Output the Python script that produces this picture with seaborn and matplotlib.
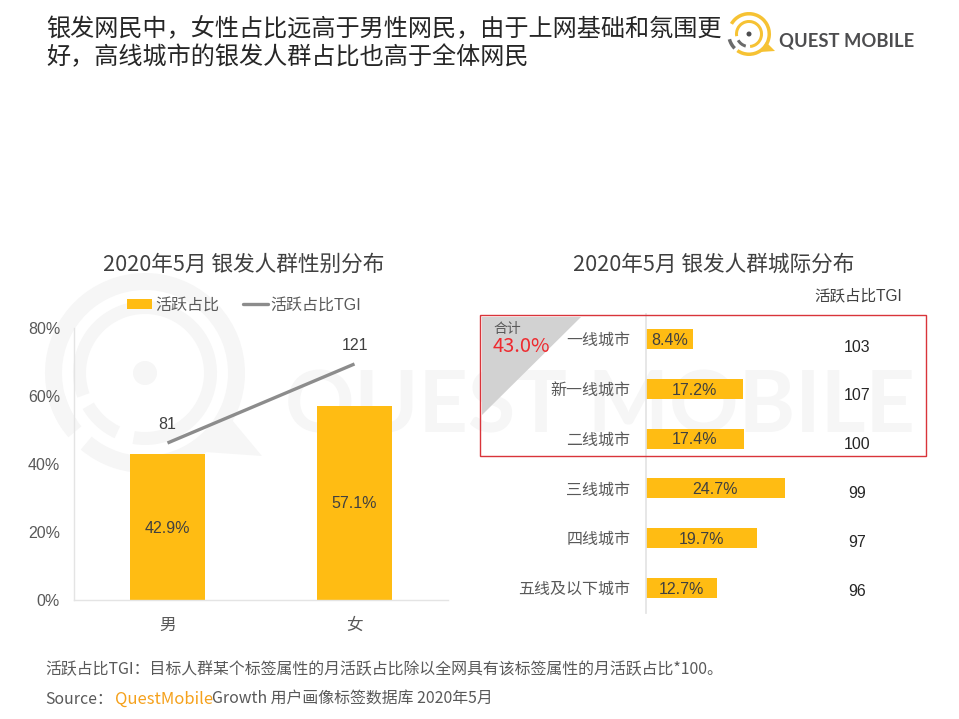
import matplotlib
matplotlib.use('Agg')
import matplotlib.pyplot as plt
from matplotlib.lines import Line2D
from matplotlib.patches import Patch, Polygon, Rectangle, Wedge, Circle
import pandas as pd
import seaborn as sns

genders = ['男', '女']
gender_share = [42.9, 57.1]
gender_tgi = [81, 121]
share_ticks = [0, 20, 40, 60, 80]

cities = ['一线城市', '新一线城市', '二线城市', '三线城市', '四线城市', '五线及以下城市']
city_share = [8.4, 17.2, 17.4, 24.7, 19.7, 12.7]
city_tgi = [103, 107, 100, 99, 97, 96]

title_text = '银发网民中，女性占比远高于男性网民，由于上网基础和氛围更\n好，高线城市的银发人群占比也高于全体网民'
note_text = '活跃占比TGI：目标人群某个标签属性的月活跃占比除以全网具有该标签属性的月活跃占比*100。'

YELLOW = '#ffbc13'
GREY = '#8c8c8c'
TEXT = '#404040'
WM = '#f6f6f6'
W, H = 959, 719

sns.set_theme(style='white')
cjk = ['Noto Sans CJK SC', 'DejaVu Sans']
mixed = ['Liberation Sans', 'Noto Sans CJK SC', 'DejaVu Sans']
plt.rcParams['font.family'] = mixed


def px_axes(fig, left, top, right, bottom, **kw):
    return fig.add_axes([left / W, (H - bottom) / H, (right - left) / W, (bottom - top) / H], **kw)


fig = plt.figure(figsize=(W / 100, H / 100), dpi=100, facecolor='white')

# overlay in pixel coords, for watermark, logo and loose text
bg = px_axes(fig, 0, 0, W, H, zorder=0)
bg.set_xlim(0, W)
bg.set_ylim(H, 0)
bg.axis('off')

# watermark
cx, cy = 145, 373
bg.add_patch(Wedge((cx, cy), 100, -215, 130, width=17, fc=WM, ec='none'))
bg.add_patch(Wedge((cx, cy), 100, 140, 165, width=17, fc=WM, ec='none'))
bg.add_patch(Wedge((cx, cy), 72, -200, 100, width=13, fc=WM, ec='none'))
bg.add_patch(Wedge((cx, cy), 72, 115, 150, width=13, fc=WM, ec='none'))
bg.add_patch(Circle((cx, cy), 12, fc=WM, ec='none'))
bg.add_patch(Polygon([(232, 420), (262, 456), (205, 452)], fc=WM, ec='none'))
bg.text(285, 408, 'QUEST MOBILE', fontsize=62, color=WM, family='Lato', fontweight='bold',
        va='center', ha='left')

# gender chart
ax1 = px_axes(fig, 74, 328, 448, 599.5, zorder=2)
ax1.patch.set_alpha(0)
df_gender = pd.DataFrame({'gender': genders, 'share': gender_share, 'tgi': gender_tgi})
sns.barplot(data=df_gender, x='gender', y='share', color=YELLOW, saturation=1, width=0.4,
            linewidth=0, ax=ax1)
ax1.set_ylim(0, 80)
ax1.set_yticks(share_ticks)
ax1.set_yticklabels([f'{v}%' for v in share_ticks])
ax1.set_xlabel('')
ax1.set_ylabel('')
ax1.tick_params(axis='y', length=0, pad=10, labelsize=11.5, labelcolor='#595959')
ax1.tick_params(axis='x', length=0, pad=13, labelsize=12, labelcolor='#595959')
for s in ['top', 'right']:
    ax1.spines[s].set_visible(False)
for s in ['left', 'bottom']:
    ax1.spines[s].set_color('#e4e4e4')
    ax1.spines[s].set_linewidth(1)
for t in ax1.bar_label(ax1.containers[0], fmt='%.1f%%', label_type='center', fontsize=11.5, color=TEXT,
                       family='Liberation Sans'):
    t.xyann = (0, -1)

ax1b = ax1.twinx()
sns.lineplot(data=df_gender, x='gender', y='tgi', color=GREY, linewidth=2.4, ax=ax1b,
             solid_capstyle='butt')
ax1b.set_ylim(1.8, 139.2)
ax1.set_xlim(-0.5, 1.5)
ax1b.axis('off')
for i, v in enumerate(gender_tgi):
    ax1b.annotate(str(v), (i, v), xytext=(0, 13), textcoords='offset points', ha='center',
                  va='center', fontsize=11.5, color=TEXT, family='Liberation Sans')
handles = [Patch(fc=YELLOW, ec='none'), Line2D([], [], color=GREY, linewidth=2.4)]
fig.legend(handles, ['活跃占比', '活跃占比TGI'], loc='center', bbox_to_anchor=(244.5 / W, 1 - 305 / H),
           ncol=2, frameon=False, fontsize=11.5, labelcolor='#595959', handlelength=1.56,
           handleheight=0.55, handletextpad=0.2, columnspacing=1.45, borderpad=0)

# city chart
ax2 = px_axes(fig, 645.5, 314, 905, 613, zorder=2)
ax2.patch.set_alpha(0)
df_city = pd.DataFrame({'city': cities, 'share': city_share})
sns.barplot(data=df_city, y='city', x='share', color=YELLOW, saturation=1, width=0.4,
            linewidth=0, ax=ax2)
ax2.set_xlim(0, 46)
ax2.set_xlabel('')
ax2.set_ylabel('')
ax2.set_xticks([])
ax2.tick_params(axis='y', length=0, pad=11, labelsize=11.5, labelcolor='#595959')
for s in ['top', 'right', 'bottom']:
    ax2.spines[s].set_visible(False)
ax2.spines['left'].set_color('#e4e4e4')
for t in ax2.bar_label(ax2.containers[0], fmt='%.1f%%', label_type='center', fontsize=11.5, color=TEXT,
                       family='Liberation Sans'):
    t.xyann = (0, -1)

# foreground overlay
fg = px_axes(fig, 0, 0, W, H, zorder=3)
fg.set_xlim(0, W)
fg.set_ylim(H, 0)
fg.axis('off')
fg.add_patch(Polygon([(482, 317), (581, 317), (482, 415)], fc='#d2d2d2', ec='none', zorder=0))
fg.add_patch(Rectangle((479.5, 315), 446.5, 141, fc='none', ec='#d9343a', lw=1, zorder=3))
fg.text(493, 329, '合计', fontsize=10, color='#595959', va='center', family=cjk)
fg.text(493, 347, '43.0%', fontsize=14.5, color='#ee2a2f', va='center', family=cjk)
fg.text(858, 296, '活跃占比TGI', fontsize=11.2, color=TEXT, ha='center', va='center')
for i, v in enumerate(city_tgi):
    fg.text(857, 347 + 48.8 * i, str(v), fontsize=11.5, color='#262626', ha='center', va='center',
            family='Liberation Sans')

# titles
fg.text(46, 43.5, title_text, fontsize=17.37, color='#262626', va='center', ha='left', family=cjk,
        linespacing=1.1)
fg.text(244, 265, '2020年5月 银发人群性别分布', fontsize=15.6, color='#404040', ha='center',
        va='center', family=cjk)
fg.text(714, 265, '2020年5月 银发人群城际分布', fontsize=15.6, color='#404040', ha='center',
        va='center', family=cjk)

# logo
lx, ly = 749, 34
LOGO = '#f6c233'
fg.add_patch(Wedge((lx, ly), 22, -150, 125, width=3.5, fc=LOGO, ec='none'))
fg.add_patch(Wedge((lx, ly), 22, 135, 165, width=3.5, fc='#6b6b6b', ec='none'))
fg.add_patch(Wedge((lx, ly), 14, -190, 85, width=3, fc=LOGO, ec='none'))
fg.add_patch(Wedge((lx, ly), 14, 105, 150, width=3, fc='#6b6b6b', ec='none'))
fg.add_patch(Circle((lx, ly), 2.5, fc='#4d4d4f', ec='none'))
fg.add_patch(Polygon([(766, 42), (775, 51), (760, 52)], fc=LOGO, ec='none'))
fg.text(779, 41, 'QUEST MOBILE', fontsize=13.2, color='#4d4d4f', family='Lato', fontweight='bold',
        va='center', ha='left')

# footer
fg.text(45, 670, note_text, fontsize=11.45, color='#595959', va='center', family=cjk)
fg.text(45, 699, 'Source：', fontsize=11.45, color='#595959', va='center', family=cjk)
fg.text(115, 699, 'QuestMobile', fontsize=12, color='#f5a11c', va='center', family=cjk)
fg.text(212, 699, 'Growth 用户画像标签数据库 2020年5月', fontsize=11.45, color='#595959', va='center', family=cjk)

fig.savefig('out.png', dpi=100)
